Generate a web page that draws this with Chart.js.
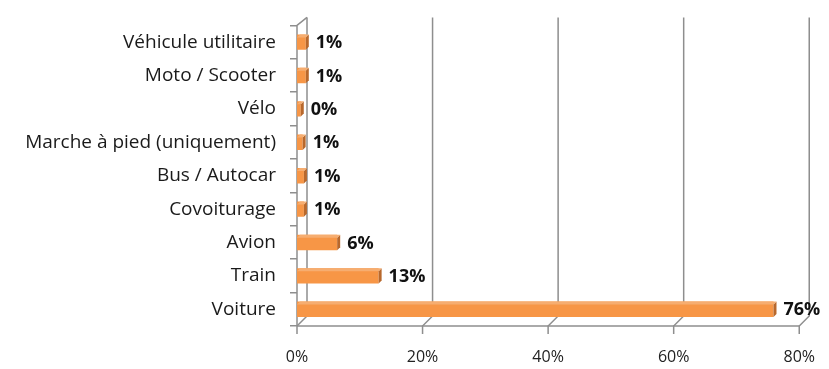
<!DOCTYPE html>
<html>
<head>
<meta charset="utf-8">
<script src="https://cdn.jsdelivr.net/npm/chart.js@4.4.1/dist/chart.umd.min.js"></script>
<style>
  html, body { margin: 0; padding: 0; background: #fff; }
  #wrap { width: 829px; height: 369px; }
</style>
</head>
<body>
<div id="wrap"><canvas id="graphique"></canvas></div>
<script>
// modes de transport, du haut vers le bas
const categories = ["Véhicule utilitaire", "Moto / Scooter", "Vélo", "Marche à pied (uniquement)",
  "Bus / Autocar", "Covoiturage", "Avion", "Train", "Voiture"];
const parts = [1.4, 1.4, 0.6, 0.9, 1.1, 1.1, 6.4, 13, 75.9];
const etiquettes = ["1%", "1%", "0%", "1%", "1%", "1%", "6%", "13%", "76%"];
const graduations = [0, 20, 40, 60, 80];

const GRIS = "#8e8e8e";
const POLICE = "'Open Sans', Lato, sans-serif";

// faux relief à la Excel : murs, grille de fond et bouts de barres
const relief = {
  id: "relief",
  beforeDatasetsDraw(chart) {
    const { ctx, chartArea: a, scales: { x } } = chart;
    ctx.save();
    ctx.strokeStyle = GRIS;
    ctx.lineWidth = 1.5;
    graduations.forEach(v => {
      const px = x.getPixelForValue(v);
      ctx.beginPath();
      ctx.moveTo(px + 10, a.top - 8);
      ctx.lineTo(px + 10, a.bottom - 10);
      ctx.lineTo(px, a.bottom);
      ctx.lineTo(px, a.bottom + 8);
      ctx.stroke();
    });
    // mur gauche
    ctx.beginPath();
    ctx.moveTo(a.left, a.bottom);
    ctx.lineTo(a.left, a.top);
    ctx.lineTo(a.left + 10, a.top - 8);
    ctx.stroke();
    // sol
    ctx.beginPath();
    ctx.moveTo(a.left, a.bottom);
    ctx.lineTo(x.getPixelForValue(80), a.bottom);
    ctx.stroke();
    ctx.restore();
  },
  afterDatasetsDraw(chart) {
    const { ctx } = chart;
    const meta = chart.getDatasetMeta(0);
    ctx.save();
    meta.data.forEach((bar, i) => {
      const h = bar.height;
      const top = bar.y - h / 2;
      const right = bar.x;
      // bout de barre plus sombre
      ctx.fillStyle = "#b8682c";
      ctx.beginPath();
      ctx.moveTo(right, top + 3);
      ctx.lineTo(right + 3, top);
      ctx.lineTo(right + 3, top + h - 3);
      ctx.lineTo(right, top + h);
      ctx.closePath();
      ctx.fill();
      // dessus de barre
      ctx.fillStyle = "#f6ad70";
      ctx.beginPath();
      ctx.moveTo(bar.base, top + 3);
      ctx.lineTo(bar.base + 3, top);
      ctx.lineTo(right + 3, top);
      ctx.lineTo(right, top + 3);
      ctx.closePath();
      ctx.fill();
      // étiquette de valeur
      ctx.fillStyle = "#111";
      ctx.font = "bold 18px " + POLICE;
      ctx.textBaseline = "middle";
      ctx.fillText(etiquettes[i], right + 10, bar.y + 1);
    });
    ctx.restore();
  }
};

new Chart(document.getElementById("graphique"), {
  type: "bar",
  data: {
    labels: categories,
    datasets: [{
      data: parts,
      backgroundColor: "#f79646",
      borderWidth: 0,
      barPercentage: 0.46,
      categoryPercentage: 1
    }]
  },
  options: {
    indexAxis: "y",
    responsive: true,
    maintainAspectRatio: false,
    animation: false,
    layout: { padding: { top: 21, right: 29, left: 0, bottom: 0 } },
    plugins: { legend: { display: false }, tooltip: { enabled: false } },
    scales: {
      x: {
        min: 0,
        max: 80,
        afterBuildTicks: s => { s.ticks = graduations.map(v => ({ value: v })); },
        afterFit: s => { s.height = 43; },
        grid: { display: false },
        border: { display: false },
        ticks: {
          callback: v => v + "%",
          color: "#222",
          font: { size: 16, family: POLICE },
          padding: 14
        }
      },
      y: {
        afterFit: s => { s.width = 297; },
        grid: { drawOnChartArea: false, color: GRIS, tickLength: 7, lineWidth: 1.5 },
        border: { display: false },
        ticks: {
          color: "#1a1a1a",
          font: { size: 19, family: POLICE },
          padding: 14
        }
      }
    }
  },
  plugins: [relief]
});
</script>
</body>
</html>
